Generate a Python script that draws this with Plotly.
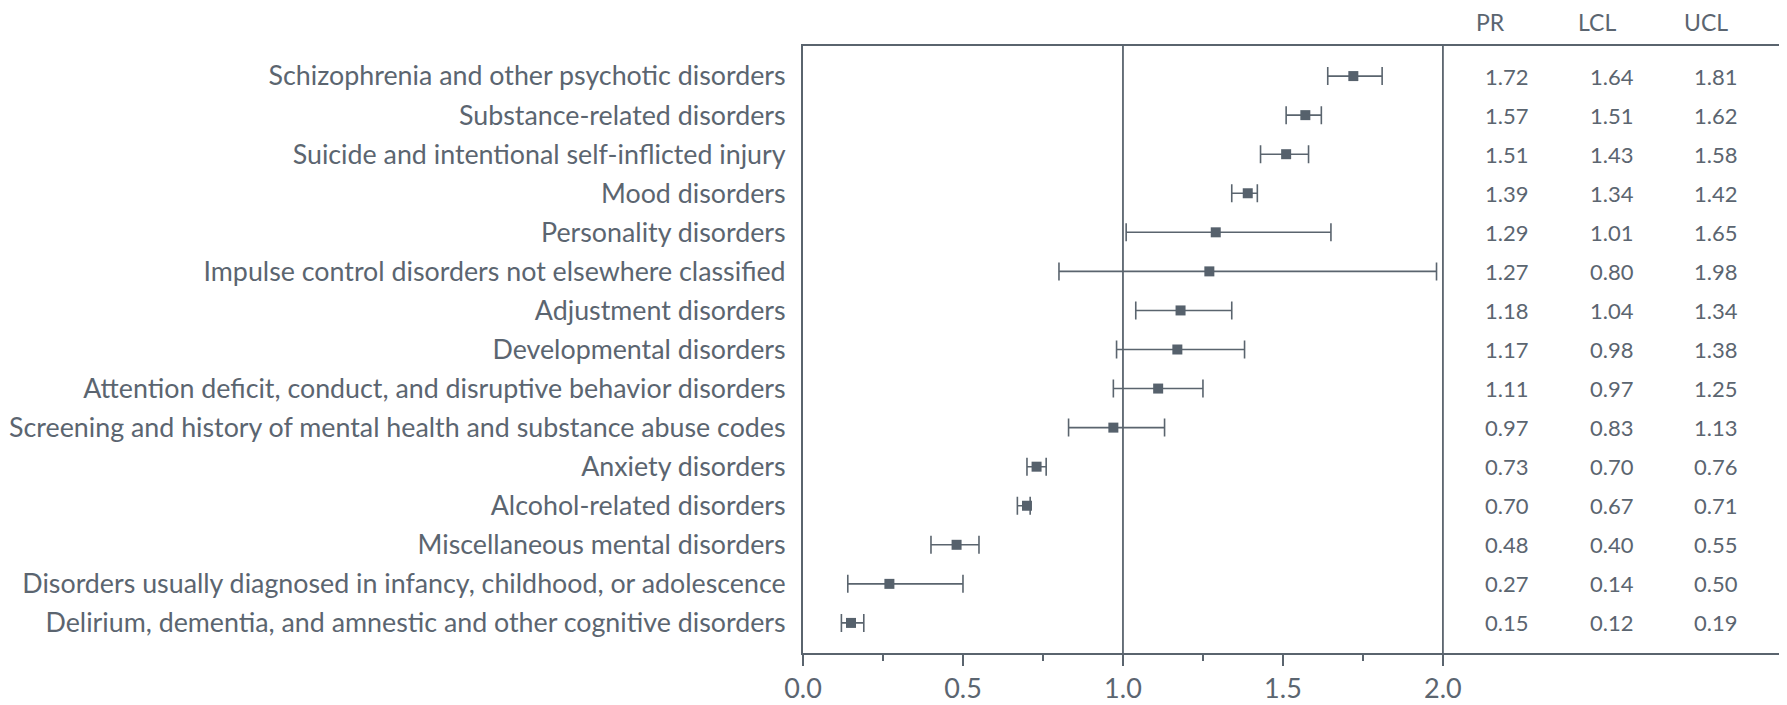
import plotly.graph_objects as go

categories = [
    "Schizophrenia and other psychotic disorders",
    "Substance-related disorders",
    "Suicide and intentional self-inflicted injury",
    "Mood disorders",
    "Personality disorders",
    "Impulse control disorders not elsewhere classified",
    "Adjustment disorders",
    "Developmental disorders",
    "Attention deficit, conduct, and disruptive behavior disorders",
    "Screening and history of mental health and substance abuse codes",
    "Anxiety disorders",
    "Alcohol-related disorders",
    "Miscellaneous mental disorders",
    "Disorders usually diagnosed in infancy, childhood, or adolescence",
    "Delirium, dementia, and amnestic and other cognitive disorders",
]
pr = [1.72, 1.57, 1.51, 1.39, 1.29, 1.27, 1.18, 1.17, 1.11, 0.97, 0.73, 0.70, 0.48, 0.27, 0.15]
lcl = [1.64, 1.51, 1.43, 1.34, 1.01, 0.80, 1.04, 0.98, 0.97, 0.83, 0.70, 0.67, 0.40, 0.14, 0.12]
ucl = [1.81, 1.62, 1.58, 1.42, 1.65, 1.98, 1.34, 1.38, 1.25, 1.13, 0.76, 0.71, 0.55, 0.50, 0.19]

table_headers = ["PR", "LCL", "UCL"]
table_cols = [pr, lcl, ucl]
table_x = [2.126, 2.453, 2.780]
header_x = [2.098, 2.416, 2.746]
x_ticks = [0, 0.5, 1.0, 1.5, 2.0]
x_minor = [0.25, 0.75, 1.25, 1.75]

COL = "#5a646e"
TXT = "#5b6570"
FONT = "Lato"

rows = list(range(len(categories)))

fig = go.Figure()
fig.add_trace(go.Scatter(
    x=pr, y=rows, mode="markers",
    marker=dict(symbol="square", size=10, color="#56616c"),
    error_x=dict(type="data", symmetric=False,
                 array=[u - p for u, p in zip(ucl, pr)],
                 arrayminus=[p - l for p, l in zip(pr, lcl)],
                 color=COL, thickness=1.6, width=9),
    showlegend=False, hoverinfo="skip",
))

annotations = []
for hx, tx, h, col in zip(header_x, table_x, table_headers, table_cols):
    annotations.append(dict(x=hx, y=1.0395, xref="x", yref="paper", text=h, showarrow=False,
                            xanchor="left", yanchor="middle",
                            font=dict(family=FONT, size=23, color=TXT)))
    for i, v in enumerate(col):
        annotations.append(dict(x=tx, y=i, xref="x", yref="y", text=f"{v:.2f}", showarrow=False,
                                xanchor="left", yanchor="middle",
                                font=dict(family=FONT, size=22, color=TXT)))

shapes = [dict(type="line", x0=xv, x1=xv, y0=0, y1=1, xref="x", yref="paper",
               line=dict(color=COL, width=1.8)) for xv in [1.0, 2.0]]

# page body has an 8px margin, so the figure is sized to end at the window edge
fig.update_layout(
    width=1779, height=697,
    margin=dict(l=793, r=1, t=38, b=44),
    paper_bgcolor="white", plot_bgcolor="white",
    font=dict(family=FONT, size=22, color=TXT),
    annotations=annotations, shapes=shapes,
    xaxis=dict(range=[0, 3.066], tickvals=x_ticks, ticktext=[f"{t:.1f}" for t in x_ticks],
               showgrid=False, zeroline=False, showline=True, linecolor=COL, linewidth=2,
               mirror=True, ticks="outside", ticklen=11, tickwidth=2, tickcolor=COL,
               tickfont=dict(family=FONT, size=27, color=TXT),
               minor=dict(tickvals=x_minor, ticks="outside", ticklen=6, tickwidth=2, tickcolor=COL)),
    yaxis=dict(range=[14.77, -0.77], tickvals=rows, ticktext=categories,
               showgrid=False, zeroline=False, showline=True, linecolor=COL, linewidth=2,
               mirror=True, ticks="", ticklabelstandoff=10,
               tickfont=dict(family=FONT, size=26.8, color=TXT)),
)

fig.write_html("out.html")
